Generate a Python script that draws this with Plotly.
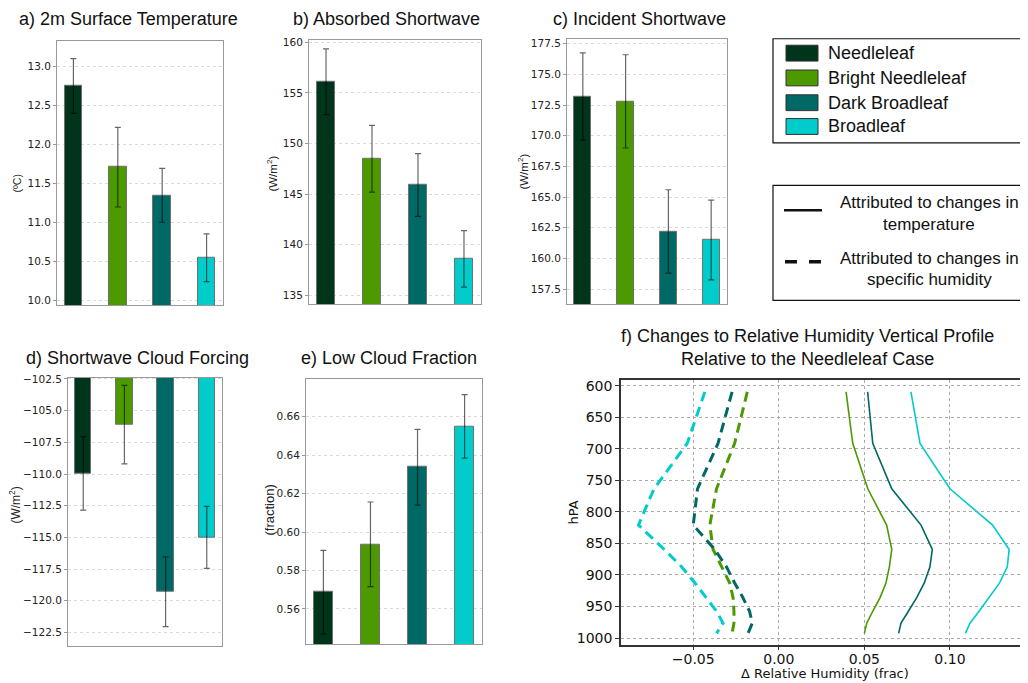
import plotly.graph_objects as go

# page body has an 8px margin, so the figure is drawn 8px in from the top-left corner
OFF = 8
W, H = 1020, 675

# ---------------- data ----------------
categories = ["Needleleaf", "Bright Needleleaf", "Dark Broadleaf", "Broadleaf"]
colors = ["#00341b", "#4c9a00", "#006865", "#00cccc"]

temp_mean = [12.75, 11.71, 11.35, 10.55]
temp_err = [0.35, 0.51, 0.345, 0.305]
asw_mean = [156.1, 148.5, 145.9, 138.6]
asw_err = [3.25, 3.3, 3.1, 2.8]
isw_mean = [173.2, 172.8, 162.2, 161.5]
isw_err = [3.55, 3.8, 3.4, 3.25]
swcf_mean = [-109.95, -106.1, -119.3, -115.0]
swcf_err = [2.9, 3.1, 2.75, 2.45]
lcf_mean = [0.5687, 0.5936, 0.6337, 0.6549]
lcf_err = [0.0218, 0.022, 0.0197, 0.0165]

levels = [609.78, 691.39, 763.40, 820.86, 859.53, 887.02, 912.64, 936.20, 957.49, 976.33, 992.56]
bn_temp = [0.0393, 0.0432, 0.052, 0.063, 0.066, 0.0646, 0.0626, 0.0591, 0.0549, 0.0514, 0.050]
db_temp = [0.0519, 0.0549, 0.066, 0.0831, 0.0897, 0.0883, 0.085, 0.0805, 0.0757, 0.0714, 0.070]
bl_temp = [0.0772, 0.0825, 0.100, 0.1249, 0.1346, 0.1335, 0.129, 0.1228, 0.117, 0.1117, 0.109]
bn_hum = [-0.0184, -0.0258, -0.0364, -0.0403, -0.0384, -0.0335, -0.0287, -0.0267, -0.0262, -0.0262, -0.0273]
db_hum = [-0.0273, -0.0355, -0.0475, -0.050, -0.0374, -0.0306, -0.0258, -0.0209, -0.0171, -0.0155, -0.018]
bl_hum = [-0.0432, -0.0535, -0.0729, -0.082, -0.0669, -0.0568, -0.049, -0.0422, -0.0364, -0.0326, -0.0364]

titles = ["a) 2m Surface Temperature", "b) Absorbed Shortwave", "c) Incident Shortwave",
          "d) Shortwave Cloud Forcing", "e) Low Cloud Fraction"]
ylabels = ["(ºC)", "(W/m<sup>2</sup>)", "(W/m<sup>2</sup>)", "(W/m<sup>2</sup>)", "(fraction)"]
yticks = [
    [10.0, 10.5, 11.0, 11.5, 12.0, 12.5, 13.0],
    [135, 140, 145, 150, 155, 160],
    [157.5, 160.0, 162.5, 165.0, 167.5, 170.0, 172.5, 175.0, 177.5],
    [-122.5, -120.0, -117.5, -115.0, -112.5, -110.0, -107.5, -105.0, -102.5],
    [0.56, 0.58, 0.60, 0.62, 0.64, 0.66],
]
tickfmts = [".1f", "d", ".1f", ".1f", ".2f"]
pres_ticks = [600, 650, 700, 750, 800, 850, 900, 950, 1000]
rh_ticks = [-0.05, 0.0, 0.05, 0.10]

# ---------------- layout helpers (screen pixels -> paper) ----------------
def px(x):
    return (x - OFF) / W

def py(y):
    return 1 - (y - OFF) / H

panel_boxes = [  # x0, x1, y0(top), y1(bottom)
    (57, 223, 36, 303),
    (309, 481, 35, 302),
    (567, 727, 34, 302),
    (68, 222, 376, 647),
    (306, 482, 377, 645),
]
yranges = [
    [9.94, 13.33],
    [134.1, 160.26],
    [156.26, 177.9],
    [-123.6, -102.4],
    [0.5416, 0.6797],
]
title_pos = [(128, 14), (386, 14), (639, 14), (137, 356), (389, 356)]
ylabel_pos = [(17, 180), (272, 170), (523, 168), (15, 505), (270, 510)]
ylabel_size = [10.5, 11.5, 11.5, 12, 13]

means = [temp_mean, asw_mean, isw_mean, swcf_mean, lcf_mean]
errs = [temp_err, asw_err, isw_err, swcf_err, lcf_err]

TICKFONT = dict(family="DejaVu Sans", size=10.5, color="#222")
TXTFONT = "Liberation Sans, Arial, sans-serif"

fig = go.Figure()
annotations = []
layout = {}

for i in range(5):
    n = i + 1
    xa = "x" if n == 1 else f"x{n}"
    ya = "y" if n == 1 else f"y{n}"
    fig.add_trace(go.Bar(
        x=list(range(len(categories))),
        y=means[i],
        width=0.4,
        marker=dict(color=colors, line=dict(color="#707070", width=1)),
        error_y=dict(type="data", array=errs[i], color="rgba(0,0,0,0.6)", thickness=1.2, width=3),
        xaxis=xa, yaxis=ya, showlegend=False, hoverinfo="y",
    ))
    x0, x1, y0, y1 = panel_boxes[i]
    layout[f"xaxis{n if n > 1 else ''}"] = dict(
        domain=[px(x0), px(x1)], range=[-0.37, 3.37], anchor=ya,
        showticklabels=False, showgrid=False, zeroline=False, ticks="",
        showline=True, linecolor="#999", linewidth=1, mirror=True, fixedrange=True,
    )
    layout[f"yaxis{n if n > 1 else ''}"] = dict(
        domain=[py(y1), py(y0)], range=yranges[i], anchor=xa,
        tickvals=yticks[i], tickformat=tickfmts[i], tickfont=TICKFONT,
        showgrid=True, gridcolor="#d9d9d9", griddash="dot", gridwidth=1,
        zeroline=False, showline=True, linecolor="#999", linewidth=1, mirror=True,
        ticks="outside", ticklen=3, tickcolor="#999", fixedrange=True,
    )
    annotations.append(dict(
        x=px(title_pos[i][0]), y=py(title_pos[i][1]), xref="paper", yref="paper",
        text=titles[i], showarrow=False, xanchor="center", yanchor="middle",
        font=dict(family=TXTFONT, size=18, color="#111"),
    ))
    annotations.append(dict(
        x=px(ylabel_pos[i][0]), y=py(ylabel_pos[i][1]), xref="paper", yref="paper",
        text=ylabels[i], showarrow=False, textangle=-90, xanchor="center", yanchor="middle",
        font=dict(family=TXTFONT, size=ylabel_size[i], color="#222"),
    ))

# ---------------- panel f ----------------
profiles = [
    (bn_temp, colors[1], "solid", 1.6),
    (db_temp, colors[2], "solid", 1.6),
    (bl_temp, colors[3], "solid", 1.6),
    (bn_hum, colors[1], "10px,6px", 3),
    (db_hum, colors[2], "10px,6px", 3),
    (bl_hum, colors[3], "10px,6px", 3),
]
for vals, col, dash, wdt in profiles:
    fig.add_trace(go.Scatter(
        x=vals, y=levels, mode="lines", line=dict(color=col, width=wdt, dash=dash),
        xaxis="x6", yaxis="y6", showlegend=False,
    ))

layout["xaxis6"] = dict(
    domain=[px(621), 1.0], range=[-0.0922, 0.1456], anchor="y6",
    tickvals=rh_ticks, tickformat=".2f", tickfont=dict(family="DejaVu Sans", size=14, color="#111"),
    showgrid=True, gridcolor="#aaa", griddash="dot", zeroline=False,
    showline=True, linecolor="#333", linewidth=1.5, mirror=True,
    ticks="outside", ticklen=3, tickcolor="#333", ticklabelstandoff=-3, fixedrange=True,
)
layout["yaxis6"] = dict(
    domain=[py(646), py(378)], range=[1011.5, 590.5], anchor="x6",
    tickvals=pres_ticks, tickfont=dict(family="DejaVu Sans", size=14, color="#111"),
    showgrid=True, gridcolor="#aaa", griddash="dot", zeroline=False,
    showline=True, linecolor="#333", linewidth=1.5, mirror=False,
    ticks="outside", ticklen=4, tickcolor="#333", fixedrange=True,
)
annotations += [
    dict(x=px(807), y=py(334), xref="paper", yref="paper", showarrow=False,
         text="f) Changes to Relative Humidity Vertical Profile", xanchor="center", yanchor="middle",
         font=dict(family=TXTFONT, size=18, color="#111")),
    dict(x=px(807), y=py(357), xref="paper", yref="paper", showarrow=False,
         text="Relative to the Needleleaf Case", xanchor="center", yanchor="middle",
         font=dict(family=TXTFONT, size=18, color="#111")),
    dict(x=px(825), y=py(674), xref="paper", yref="paper", showarrow=False,
         text="Δ Relative Humidity (frac)", xanchor="center", yanchor="middle",
         font=dict(family="DejaVu Sans", size=13, color="#111")),
    dict(x=px(574), y=py(512), xref="paper", yref="paper", showarrow=False, textangle=-90,
         text="hPA", xanchor="center", yanchor="middle",
         font=dict(family="DejaVu Sans", size=13, color="#111")),
]

# ---------------- legends (drawn as shapes + text) ----------------
shapes = []
shapes.append(dict(type="rect", xref="paper", yref="paper", x0=px(773), x1=px(1032),
                   y0=py(139), y1=py(34), line=dict(color="#111", width=1.2), fillcolor="rgba(0,0,0,0)"))
leg_y = [48.5, 73.5, 98.5, 122.5]
for j, name in enumerate(categories):
    shapes.append(dict(type="rect", xref="paper", yref="paper", x0=px(786), x1=px(818),
                       y0=py(leg_y[j] + 8), y1=py(leg_y[j] - 8),
                       line=dict(color="#333", width=1), fillcolor=colors[j]))
    annotations.append(dict(x=px(826), y=py(leg_y[j]), xref="paper", yref="paper", showarrow=False,
                            text=name, xanchor="left", yanchor="middle",
                            font=dict(family=TXTFONT, size=18, color="#111")))

shapes.append(dict(type="rect", xref="paper", yref="paper", x0=px(773), x1=px(1032),
                   y0=py(298), y1=py(182), line=dict(color="#111", width=1.2), fillcolor="rgba(0,0,0,0)"))
shapes.append(dict(type="line", xref="paper", yref="paper", x0=px(784), x1=px(822),
                   y0=py(207), y1=py(207), line=dict(color="#111", width=2.5)))
shapes.append(dict(type="line", xref="paper", yref="paper", x0=px(785), x1=px(822),
                   y0=py(259), y1=py(259), line=dict(color="#111", width=3.5, dash="12px,12px")))
for txt, yy in [("Attributed to changes in", 199), ("temperature", 221),
                ("Attributed to changes in", 256), ("specific humidity", 277)]:
    annotations.append(dict(x=px(929), y=py(yy), xref="paper", yref="paper", showarrow=False,
                            text=txt, xanchor="center", yanchor="middle",
                            font=dict(family=TXTFONT, size=17, color="#111")))

fig.update_layout(
    width=W, height=H, margin=dict(l=0, r=0, t=0, b=0),
    paper_bgcolor="white", plot_bgcolor="white",
    annotations=annotations, shapes=shapes, bargap=0, **layout,
)

fig.write_html("out.html")
